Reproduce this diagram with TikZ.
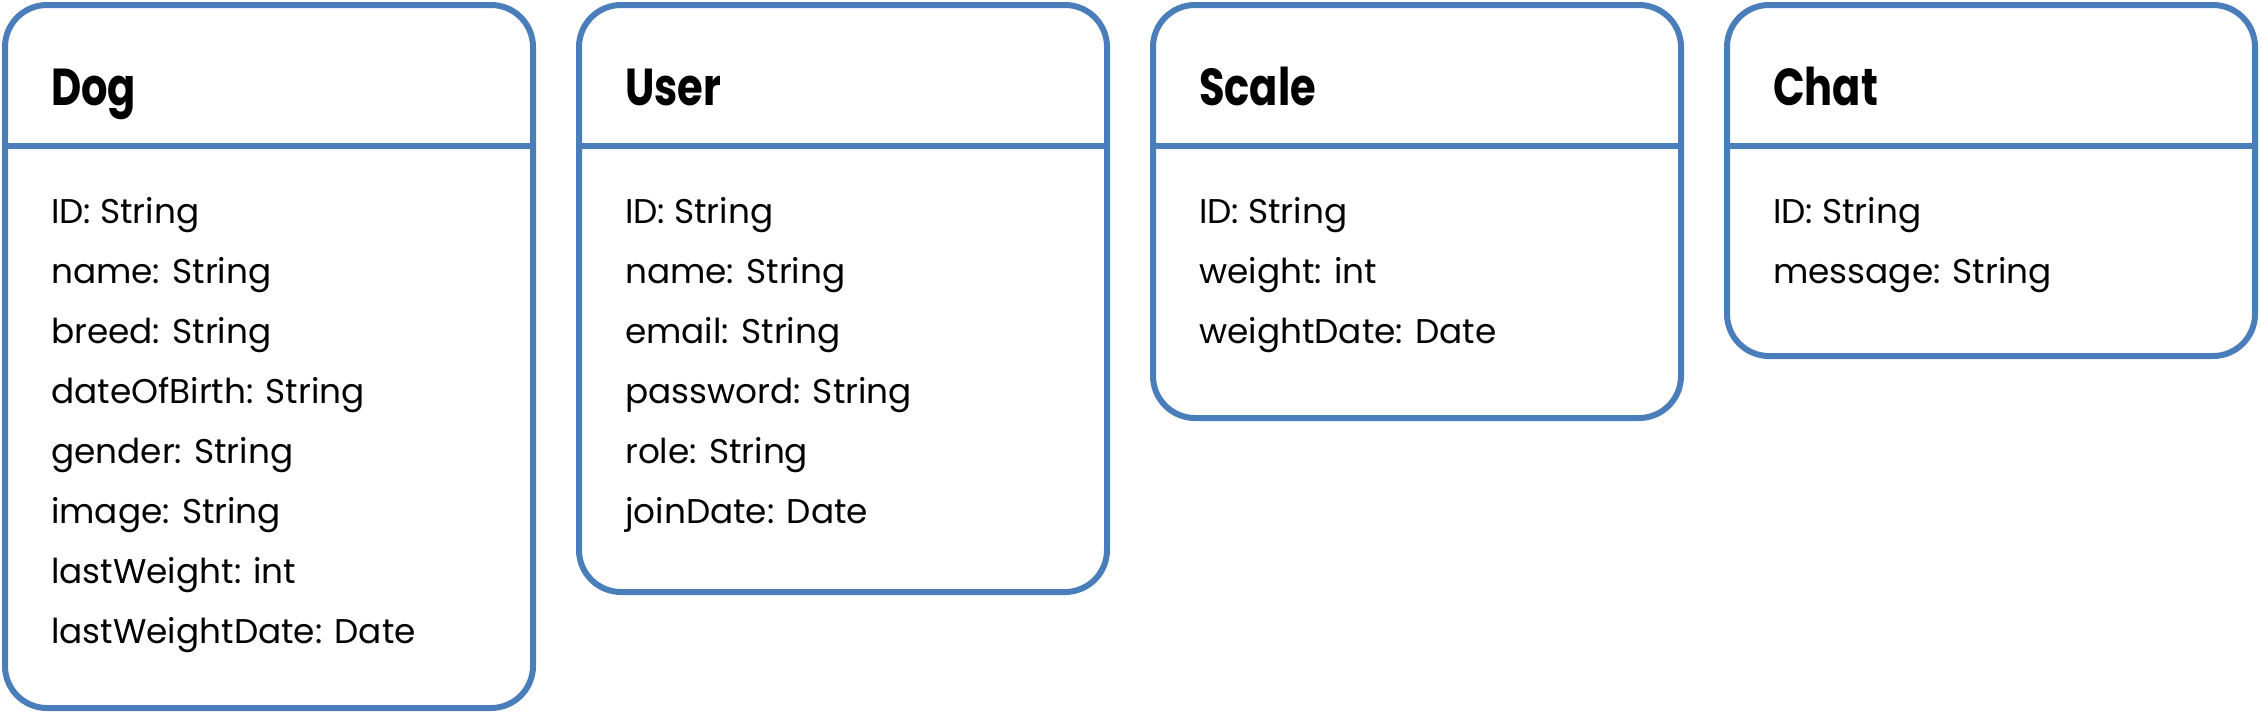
\documentclass[tikz,border=0pt]{standalone}
\usepackage{fontspec}
\usepackage{graphicx}
\setmainfont{Poppins}
\definecolor{umlblue}{HTML}{4A7EBB}
\newcommand{\narrowtitle}[1]{\scalebox{0.8}[1]{#1}}
\tikzset{
  classbox/.style={draw=umlblue, line width=6pt, rounded corners=42pt, anchor=north west,
    minimum width=528pt, inner sep=0pt, outer sep=0pt, fill=white},
  sepline/.style={draw=umlblue, line width=6pt},
  classtitle/.style={anchor=base west, inner sep=0pt, font=\fontsize{52}{60}\selectfont\bfseries},
  field/.style={anchor=base west, inner sep=0pt, font=\fontsize{34.3}{42}\selectfont}
}
\begin{document}
\begin{tikzpicture}[x=1pt,y=-1pt]
\useasboundingbox (0,0) rectangle (2261,716);
% boxes
\node[classbox, minimum height=703pt] (dog) at (5,5) {};
\node[classbox, minimum height=587pt] (user) at (579,5) {};
\node[classbox, minimum height=413pt] (scale) at (1153,5) {};
\node[classbox, minimum height=351pt] (chat) at (1727,5) {};
% separators
\foreach \b in {dog,user,scale,chat}
  \draw[sepline] ([yshift=-141pt]\b.north west) -- ([yshift=-141pt]\b.north east);
% titles
\node[classtitle] (dogT) at (51,105) {\narrowtitle{Dog}};
\node[classtitle] (userT) at (625,105) {\narrowtitle{User}};
\node[classtitle] (scaleT) at (1199,105) {\narrowtitle{Scale}};
\node[classtitle] (chatT) at (1773,105) {\narrowtitle{Chat}};
% fields
\foreach \t [count=\i] in {ID: String, name: String, breed: String, dateOfBirth: String, gender: String, image: String, lastWeight: int, lastWeightDate: Date}
  \node[field] (dog-\i) at (51,163+60*\i) {\t};
\foreach \t [count=\i] in {ID: String, name: String, email: String, password: String, role: String, joinDate: Date}
  \node[field] (user-\i) at (625,163+60*\i) {\t};
\foreach \t [count=\i] in {ID: String, weight: int, weightDate: Date}
  \node[field] (scale-\i) at (1199,163+60*\i) {\t};
\foreach \t [count=\i] in {ID: String, message: String}
  \node[field] (chat-\i) at (1773,163+60*\i) {\t};
\end{tikzpicture}
\end{document}
